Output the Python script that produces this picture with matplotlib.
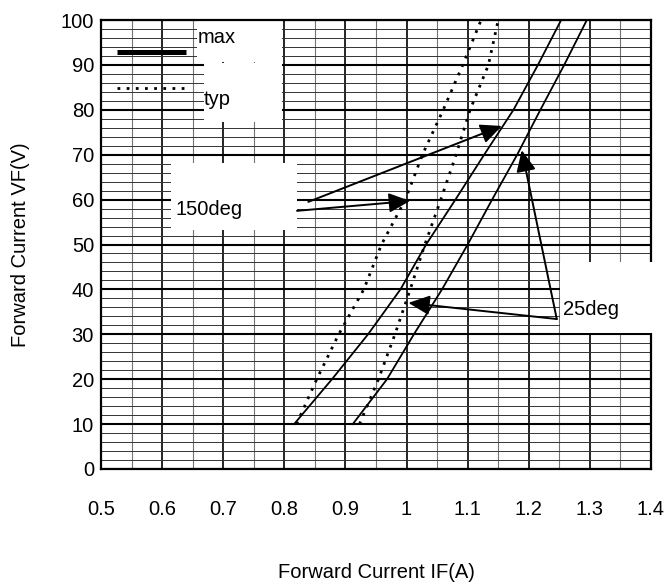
import matplotlib
matplotlib.use("Agg")
import matplotlib.pyplot as plt
from matplotlib.patches import Rectangle
from matplotlib.ticker import MultipleLocator

plt.rcParams['font.family'] = ['Liberation Sans', 'DejaVu Sans']

# ---- data ----
vf_levels = [10, 20, 30, 40, 50, 60, 70, 80, 90, 100]
if_max_150 = [0.816, 0.878, 0.937, 0.990, 1.032, 1.080, 1.127, 1.175, 1.215, 1.253]
if_max_25 = [0.912, 0.968, 1.012, 1.058, 1.100, 1.140, 1.181, 1.219, 1.258, 1.295]
if_typ_150 = [0.820, 0.853, 0.889, 0.930, 0.959, 0.998, 1.026, 1.060, 1.092, 1.122]
if_typ_25 = [0.923, 0.954, 0.981, 1.006, 1.030, 1.056, 1.081, 1.104, 1.134, 1.150]

x_ticks = [0.5, 0.6, 0.7, 0.8, 0.9, 1.0, 1.1, 1.2, 1.3, 1.4]
x_tick_labels = ["0.5", "0.6", "0.7", "0.8", "0.9", "1", "1.1", "1.2", "1.3", "1.4"]
y_ticks = [0, 10, 20, 30, 40, 50, 60, 70, 80, 90, 100]

FS = 14.5

fig = plt.figure(figsize=(6.69, 5.86), dpi=100)
ax = fig.add_axes([101/669, 1 - 469/586, 550/669, 449/586])
ax.set_xlim(0.5, 1.4)
ax.set_ylim(0, 100)

ax.set_xticks(x_ticks)
ax.set_xticklabels(x_tick_labels)
ax.set_yticks(y_ticks)
ax.xaxis.set_minor_locator(MultipleLocator(0.05))
ax.yaxis.set_minor_locator(MultipleLocator(2))
ax.tick_params(which='both', length=0)
ax.tick_params(axis='x', labelsize=FS, pad=22)
ax.tick_params(axis='y', labelsize=FS, pad=5)

ax.set_axisbelow(True)
ax.grid(axis='x', which='major', color='black', lw=1.2)
ax.grid(axis='x', which='minor', color='0.45', lw=0.8)
ax.grid(axis='y', which='major', color='black', lw=1.5)
ax.grid(axis='y', which='minor', color='0.2', lw=0.7)
for s in ax.spines.values():
    s.set_linewidth(1.6)

ax.set_xlabel("Forward Current IF(A)", fontsize=FS, labelpad=32)
ax.set_ylabel("Forward Current VF(V)", fontsize=FS, labelpad=22)

# white label boxes
boxes = [
    (0.6563, 90.7, 0.7962 - 0.6563, 9.3, False),
    (0.6686, 77.3, 0.7962 - 0.6686, 90.4 - 77.3, False),
    (0.6146, 53.2, 0.8208 - 0.6146, 68.2 - 53.2, False),
    (1.2512, 30.3, 1.43 - 1.2512, 46.1 - 30.3, True),
]
for bx, by, bw, bh, outside in boxes:
    ax.add_patch(Rectangle((bx, by), bw, bh, facecolor='white', edgecolor='none',
                           zorder=2.6 if outside else 2, clip_on=not outside))

DOT = (0, (1, 2.3))
# curves
ax.plot(if_max_150, vf_levels, color='black', lw=1.3, zorder=3)
ax.plot(if_max_25, vf_levels, color='black', lw=1.3, zorder=3)
ax.plot(if_typ_150, vf_levels, color='black', lw=2.0, ls=DOT, zorder=3)
ax.plot(if_typ_25, vf_levels, color='black', lw=2.0, ls=DOT, zorder=3)

# legend
ax.plot([0.5257, 0.639], [92.9, 92.9], color='black', lw=3.6, solid_capstyle='butt', zorder=3)
ax.plot([0.5257, 0.639], [84.8, 84.8], color='black', lw=2.0, ls=DOT, zorder=3)
ax.text(0.6587, 96.0, "max", fontsize=FS, va='center', ha='left', zorder=5)
ax.text(0.6685, 82.2, "typ", fontsize=FS, va='center', ha='left', zorder=5)

# annotations
ax.text(0.6227, 57.9, "150deg", fontsize=FS, va='center', ha='left', zorder=5)
ax.text(1.2567, 35.6, "25deg", fontsize=FS, va='center', ha='left', zorder=5,
        clip_on=False)

aprops = dict(arrowstyle='-|>,head_length=1.3,head_width=0.6', mutation_scale=10,
              lw=1.4, color='black', shrinkA=0, shrinkB=0)
arrows = [
    ((0.8393, 59.5), (1.156, 76.4)),
    ((0.8208, 57.5), (1.0057, 59.7)),
    ((1.2458, 33.4), (1.003, 37.0)),
    ((1.2458, 33.4), (1.1885, 71.0)),
]
for start, end in arrows:
    ax.annotate("", xy=end, xytext=start, arrowprops=aprops, zorder=4)

fig.savefig("out.png", dpi=100)
